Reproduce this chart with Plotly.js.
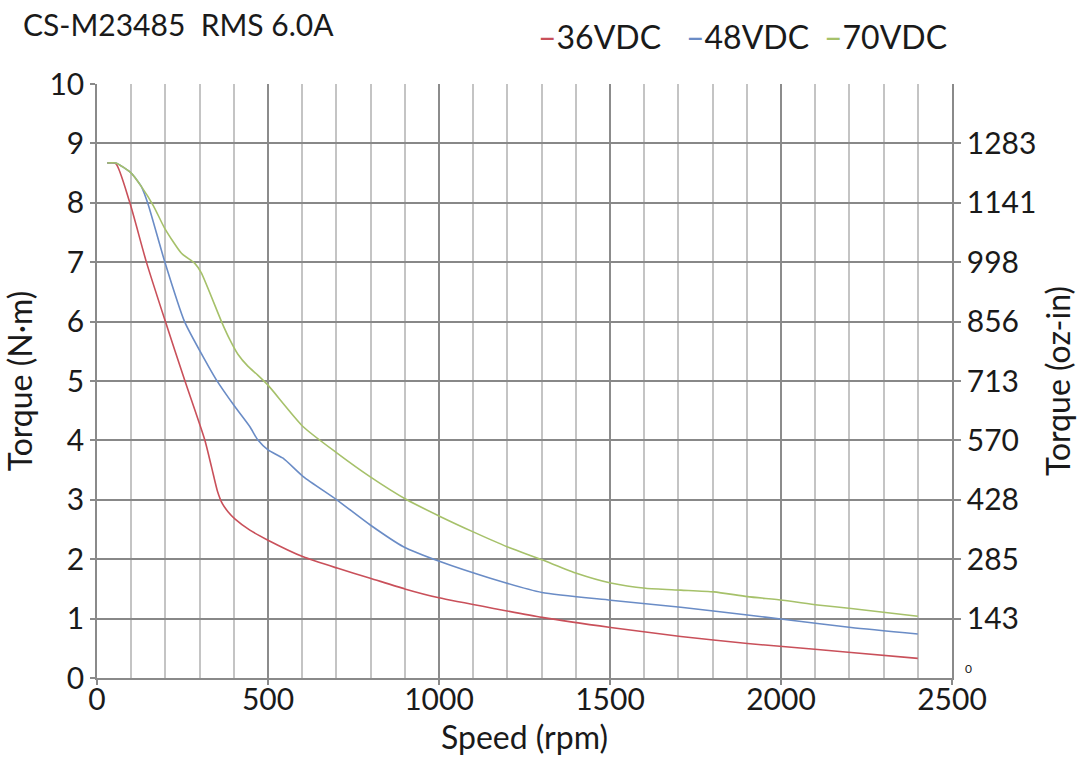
<!DOCTYPE html>
<html>
<head>
<meta charset="utf-8">
<script src="https://cdn.plot.ly/plotly-3.0.1.min.js"></script>
<style>
  html, body { margin: 0; padding: 0; background: #ffffff; }
  #chart { width: 1083px; height: 758px; }
</style>
</head>
<body>
<div id="chart"></div>
<script>
// Speed–torque curves of the CS-M23485 stepper motor at three supply voltages
const speed36 = [30, 55, 95, 144, 200, 256, 315, 335, 352, 367, 383, 403, 447, 500, 603, 702, 799, 900, 1000, 1179, 1301, 1502, 1707, 1902, 2005, 2205, 2400];
const torque36 = [8.67, 8.66, 8.02, 7.01, 6.0, 5.02, 4.01, 3.55, 3.15, 2.93, 2.8, 2.68, 2.49, 2.32, 2.04, 1.85, 1.68, 1.5, 1.35, 1.15, 1.02, 0.85, 0.70, 0.58, 0.53, 0.43, 0.33];

const speed48 = [30, 55, 100, 129, 148, 198, 256, 315, 349, 403, 447, 470, 500, 544, 603, 701, 798, 896, 1003, 1150, 1301, 1502, 1707, 1902, 2005, 2205, 2400];
const torque48 = [8.67, 8.67, 8.5, 8.28, 8.0, 7.01, 6.0, 5.36, 5.02, 4.57, 4.23, 4.01, 3.84, 3.70, 3.39, 3.0, 2.58, 2.21, 1.96, 1.68, 1.44, 1.31, 1.19, 1.06, 0.99, 0.85, 0.74];

const speed70 = [30, 55, 100, 129, 165, 198, 247, 286, 305, 364, 388, 412, 441, 470, 500, 603, 701, 798, 906, 1003, 1100, 1199, 1301, 1404, 1502, 1604, 1707, 1804, 1902, 2005, 2107, 2205, 2400];
const torque70 = [8.67, 8.67, 8.5, 8.28, 7.95, 7.57, 7.15, 6.98, 6.82, 6.0, 5.7, 5.45, 5.25, 5.1, 4.93, 4.23, 3.79, 3.39, 3.0, 2.72, 2.46, 2.21, 1.99, 1.76, 1.60, 1.51, 1.48, 1.45, 1.37, 1.31, 1.23, 1.17, 1.04];

const seriesNames = ['36VDC', '48VDC', '70VDC'];
const seriesColors = ['#c9505a', '#6a8cc6', '#a6c16a'];

// Secondary scale: 1 N·m step expressed in oz-in
const ozTickVals = [1, 2, 3, 4, 5, 6, 7, 8, 9];
const ozTickText = ['143', '285', '428', '570', '713', '856', '998', '1141', '1283'];

const FONT = 'Lato, "Open Sans", sans-serif';
const TXT = '#1a1a1a';
const TICK_SIZE = 30;
const AXIS_TITLE_SIZE = 32;

const traces = [
  [speed36, torque36],
  [speed48, torque48],
  [speed70, torque70]
].map(([x, y], i) => ({
  type: 'scatter',
  mode: 'lines',
  name: seriesNames[i],
  x: x,
  y: y,
  line: { color: seriesColors[i], width: 1.6, shape: 'spline', smoothing: 0.6 },
  hoverinfo: 'x+y+name'
}));

// Dummy trace to activate the right-hand axis
traces.push({
  type: 'scatter', mode: 'lines', x: [0, 2500], y: [0, 10],
  yaxis: 'y2', showlegend: false, hoverinfo: 'skip',
  line: { color: 'rgba(0,0,0,0)', width: 0 }
});

// Legend entries drawn as coloured dash + label
const legendX = [536, 684, 822];
const legendAnn = seriesNames.map((n, i) => ({
  xref: 'paper', yref: 'paper',
  x: (legendX[i] - 97) / 855, y: 1 + (84 - 37) / 594,
  xanchor: 'left', yanchor: 'middle',
  showarrow: false,
  text: '<span style="color:' + seriesColors[i] + '">–</span>' + n,
  font: { family: FONT, size: 32, color: TXT }
}));

const layout = {
  width: 1083,
  height: 758,
  paper_bgcolor: '#ffffff',
  plot_bgcolor: '#ffffff',
  margin: { l: 97, r: 131, t: 84, b: 80 },
  showlegend: false,
  font: { family: FONT, color: TXT },
  title: {
    text: 'CS-M23485  RMS 6.0A',
    xref: 'container', yref: 'container',
    x: 23 / 1083, xanchor: 'left',
    y: 1 - 25 / 758, yanchor: 'middle',
    font: { family: FONT, size: 30, color: TXT }
  },
  xaxis: {
    range: [0, 2500],
    tickvals: [0, 500, 1000, 1500, 2000, 2500],
    ticks: 'outside', ticklen: 5, tickcolor: '#8a8a8a', tickwidth: 1.5,
    ticklabelstandoff: -11,
    showline: true, linecolor: '#8a8a8a', linewidth: 1.5,
    showgrid: true, gridcolor: '#8c8c8c', gridwidth: 1.5,
    minor: { dtick: 100, showgrid: true, gridcolor: '#c4c4c4', gridwidth: 1.5 },
    zeroline: false,
    tickfont: { family: FONT, size: TICK_SIZE, color: TXT },
    title: { text: 'Speed (rpm)', standoff: 12, font: { family: FONT, size: AXIS_TITLE_SIZE, color: TXT } }
  },
  yaxis: {
    range: [0, 10],
    dtick: 1,
    ticks: 'outside', ticklen: 5, tickcolor: '#8a8a8a', tickwidth: 1.5,
    showline: true, linecolor: '#8a8a8a', linewidth: 1.5,
    showgrid: true, gridcolor: '#888888', gridwidth: 1.5,
    zeroline: false,
    tickfont: { family: FONT, size: TICK_SIZE, color: TXT },
    title: { text: 'Torque (N·m)', standoff: 10, font: { family: FONT, size: AXIS_TITLE_SIZE, color: TXT } }
  },
  yaxis2: {
    overlaying: 'y',
    side: 'right',
    range: [0, 10],
    tickvals: ozTickVals,
    ticktext: ozTickText,
    ticks: 'outside', ticklen: 7, tickcolor: '#8a8a8a', tickwidth: 1.5,
    showline: true, linecolor: '#8a8a8a', linewidth: 1.5,
    showgrid: false, zeroline: false,
    tickfont: { family: FONT, size: TICK_SIZE, color: TXT },
    title: { text: 'Torque (oz-in)', standoff: 12, font: { family: FONT, size: AXIS_TITLE_SIZE, color: TXT } }
  },
  annotations: legendAnn.concat([{
    // zero label of the oz-in scale, set small beside the axis end
    xref: 'paper', yref: 'y',
    x: 1, y: 0, xanchor: 'left', yanchor: 'bottom',
    xshift: 11, yshift: 0,
    showarrow: false,
    text: '0',
    font: { family: FONT, size: 12, color: TXT }
  }])
};

Plotly.newPlot('chart', traces, layout, { displayModeBar: false });
</script>
</body>
</html>
